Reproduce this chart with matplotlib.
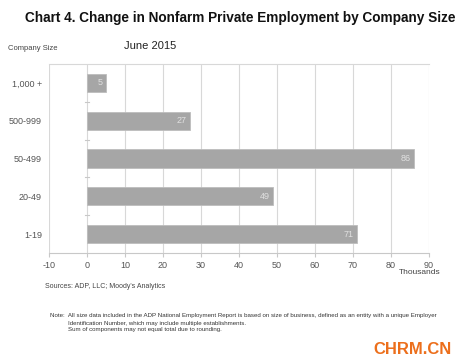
import numpy as np
import matplotlib
matplotlib.use("Agg")
import matplotlib.pyplot as plt

# data
sizes = ["1-19", "20-49", "50-499", "500-999", "1,000 +"]
change = [71, 49, 86, 27, 5]
xticks = list(range(-10, 91, 10))

plt.rcParams['font.family'] = ['Liberation Sans', 'DejaVu Sans']

fig = plt.figure(figsize=(4.63, 3.6), dpi=100)
ax = fig.add_axes([49 / 463, 1 - 253 / 360, 380 / 463, 189 / 360])

pos = np.arange(len(sizes))
bars = ax.barh(pos, change, height=0.48, color='#a6a6a6', edgecolor='#bdbdbd', linewidth=0.6, zorder=3)

# value labels inside bar ends
for p, v in zip(pos, change):
    ax.text(v - 0.8, p, str(v), ha='right', va='center', fontsize=6.5, color='#e0e0e0', zorder=4)

# little dashes between categories at zero
for p in pos[:-1]:
    ax.plot([-0.6, 0.6], [p + 0.5, p + 0.5], color='#c8c8c8', lw=0.8, zorder=2)

ax.set_xlim(-10, 90)
ax.set_ylim(-0.5, len(sizes) - 0.5)
ax.set_xticks(xticks)
ax.set_xticklabels([str(t) for t in xticks], fontsize=6.5, color='#555555')
ax.set_yticks(pos)
ax.set_yticklabels(sizes, fontsize=6.5, color='#555555')
ax.tick_params(axis='y', length=0, pad=5)
ax.tick_params(axis='x', length=3, color='#c8c8c8', pad=3)
ax.grid(axis='x', color='#d8d8d8', lw=0.8, zorder=0)
for s in ['left', 'right']:
    ax.spines[s].set_visible(False)
ax.spines['top'].set_color('#d8d8d8')
ax.spines['bottom'].set_color('#c8c8c8')

fig.text(240 / 463, 1 - 18 / 360, "Chart 4. Change in Nonfarm Private Employment by Company Size",
         ha='center', va='center', fontsize=9.8, fontweight='bold', color='#111111')
fig.text(8 / 463, 1 - 49 / 360, "Company Size", ha='left', va='center', fontsize=5.5, color='#444444')
fig.text(124 / 463, 1 - 46 / 360, "June 2015", ha='left', va='center', fontsize=8, color='#222222')
fig.text(440 / 463, 1 - 273 / 360, "Thousands", ha='right', va='center', fontsize=6, color='#444444')
fig.text(45 / 463, 1 - 286 / 360, "Sources: ADP, LLC; Moody's Analytics", ha='left', va='center', fontsize=5.0, color='#444444')
fig.text(50 / 463, 1 - 316 / 360,
         "Note:  All size data included in the ADP National Employment Report is based on size of business, defined as an entity with a unique Employer",
         ha='left', va='center', fontsize=4.4, color='#333333')
fig.text(68 / 463, 1 - 323 / 360, "Identification Number, which may include multiple establishments.",
         ha='left', va='center', fontsize=4.4, color='#333333')
fig.text(68 / 463, 1 - 330 / 360, "Sum of components may not equal total due to rounding.",
         ha='left', va='center', fontsize=4.4, color='#333333')
fig.text(413 / 463, 1 - 350 / 360, "CHRM.CN", ha='center', va='center', fontsize=12,
         fontweight='bold', color='#ec6f1c')

fig.savefig("out.png", dpi=100)
